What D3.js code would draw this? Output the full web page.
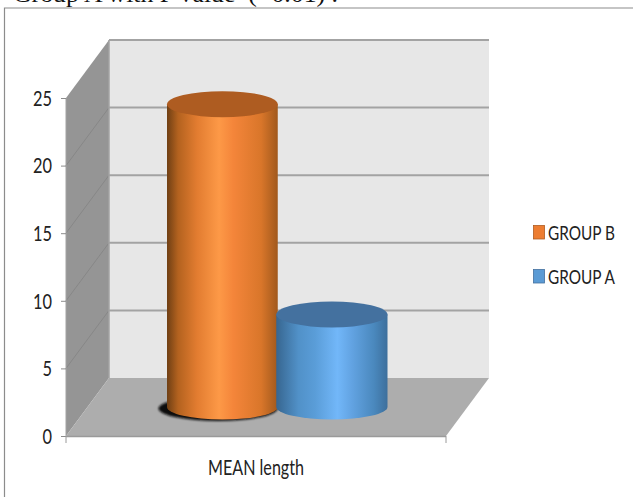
<!DOCTYPE html>
<html>
<head>
<meta charset="utf-8">
<style>
html,body{margin:0;padding:0;background:#fff;overflow:hidden}
svg{display:block}
text{font-family:Lato,"Open Sans",sans-serif;fill:#222}
</style>
<script src="https://cdn.jsdelivr.net/npm/d3@7"></script>
</head>
<body>
<svg id="chart" width="633" height="497"></svg>
<script>
const heading = "Group A with P value  (<0.01) .";
const category = "MEAN length";
const seriesNames = ["GROUP B", "GROUP A"];
const seriesValues = [22.4, 6.85];
const swatchColors = ["#ed7d31", "#5b9bd5"];
const lidColors = ["#ae5c21", "#44719f"];
const yTicks = [0, 5, 10, 15, 20, 25];

const svg = d3.select("#chart");
const W = { x0: 66, x1: 446, dx: 43, dy: 58 };     // plot front edge and depth shear
const y = d3.scaleLinear().domain([0, 25]).range([436, 98]);
const x = d3.scaleBand().domain(seriesNames).range([167, 387.5]).paddingInner(0);
const poly = pts => d3.line()(pts) + "Z";

const defs = svg.append("defs");
defs.append("filter").attr("id", "soft").attr("x", "-20%").attr("y", "-50%").attr("width", "140%").attr("height", "200%")
  .append("feGaussianBlur").attr("stdDeviation", 1);

const shades = [
  [[0, "#6f3f14"], [.1, "#b3621f"], [.27, "#e27c30"], [.47, "#fd9947"], [.6, "#f4853a"], [.85, "#d9762a"], [1, "#a1591d"]],
  [[0, "#376690"], [.2, "#5191c8"], [.35, "#5a9dd8"], [.55, "#72b7f9"], [.68, "#62a3e2"], [.88, "#4a88bd"], [1, "#3d6f9c"]]
];
shades.forEach((stops, i) => {
  const g = defs.append("linearGradient").attr("id", "tube" + i).attr("x1", 0).attr("x2", 1).attr("y1", 0).attr("y2", 0);
  stops.forEach(s => g.append("stop").attr("offset", s[0]).attr("stop-color", s[1]));
});

// Frame of the chart object; its right and bottom sides run off the page
svg.append("path").attr("d", "M4.5,497V8H633").attr("fill", "none").attr("stroke", "#8c8c8c").attr("stroke-width", 1.2);

// Clipped heading line above the frame
svg.append("text").text(heading).attr("x", 13).attr("y", 2)
  .attr("xml:space", "preserve")
  .style("font-family", '"Liberation Serif",serif').style("font-size", "23px").style("fill", "#111")
  .attr("textLength", 325).attr("lengthAdjust", "spacingAndGlyphs");

// Walls and floor
const backY = v => y(v) - W.dy;
svg.append("path").attr("fill", "#959595")
  .attr("d", poly([[W.x0, y(0)], [W.x0, y(25)], [W.x0 + W.dx, backY(25)], [W.x0 + W.dx, backY(0)]]));
svg.append("path").attr("fill", "#e7e7e7")
  .attr("d", poly([[W.x0 + W.dx, backY(25)], [W.x1 + W.dx, backY(25)], [W.x1 + W.dx, backY(0)], [W.x0 + W.dx, backY(0)]]));
svg.append("path").attr("fill", "#adadad")
  .attr("d", poly([[W.x0, y(0)], [W.x0 + W.dx, backY(0)], [W.x1 + W.dx, backY(0)], [W.x1, y(0)]]));

// Grid lines: along the side wall, then across the back wall
svg.selectAll(".side").data(yTicks.slice(1, -1)).join("line").attr("class", "side")
  .attr("x1", W.x0).attr("y1", y).attr("x2", W.x0 + W.dx).attr("y2", backY)
  .attr("stroke", "#878787").attr("stroke-width", 1);
svg.selectAll(".back").data(yTicks.slice(1)).join("line").attr("class", "back")
  .attr("x1", W.x0 + W.dx).attr("y1", backY).attr("x2", W.x1 + W.dx).attr("y2", backY)
  .attr("stroke", "#a3a3a3").attr("stroke-width", 2);
svg.append("line").attr("x1", W.x0 + W.dx).attr("x2", W.x0 + W.dx).attr("y1", backY(25)).attr("y2", backY(0))
  .attr("stroke", "#a3a3a3").attr("stroke-width", 1.5);
svg.append("line").attr("x1", W.x0).attr("x2", W.x1).attr("y1", y(0) + .5).attr("y2", y(0) + .5)
  .attr("stroke", "#9a9a9a").attr("stroke-width", 1.5);
svg.append("line").attr("x1", W.x0).attr("x2", W.x0).attr("y1", y(25)).attr("y2", y(0))
  .attr("stroke", "#a3a3a3").attr("stroke-width", 1);

// Value axis, drawn with d3.axisLeft and then narrowed to a condensed look
const yAxis = svg.append("g").attr("transform", `translate(${W.x0},0)`)
  .call(d3.axisLeft(y).tickValues(yTicks).tickSize(5).tickPadding(9).tickFormat(d3.format("d")));
yAxis.select(".domain").remove();
yAxis.selectAll("line").attr("stroke", "#8c8c8c");
yAxis.selectAll("text").style("font-size", "21px").attr("textLength", d => d < 10 ? 9.5 : 19)
  .attr("lengthAdjust", "spacingAndGlyphs").attr("dy", "0.35em");

// Category axis ticks and label
svg.selectAll(".xt").data([W.x0, W.x1]).join("line").attr("class", "xt")
  .attr("x1", d => d).attr("x2", d => d).attr("y1", y(0)).attr("y2", y(0) + 7).attr("stroke", "#9a9a9a");
svg.append("text").text(category).attr("x", 256).attr("y", 475).attr("text-anchor", "middle")
  .style("font-size", "21px").attr("textLength", 96).attr("lengthAdjust", "spacingAndGlyphs");

// Cylinders stand at mid depth on the floor
const baseY = v => y(v) - W.dy / 2;
const ry = 12.5;
svg.append("ellipse").attr("cx", x(seriesNames[0]) + 51).attr("cy", baseY(0) + 1.5).attr("rx", 59.5).attr("ry", ry)
  .attr("fill", "#111").attr("filter", "url(#soft)");

seriesNames.forEach((name, i) => {
  const L = i === 0 ? x(name) : x(name) - 1, bw = x.bandwidth() + (i === 0 ? 0.5 : 1);
  const top = baseY(seriesValues[i]), base = baseY(0), rx = bw / 2;
  const g = svg.append("g");
  g.append("path").attr("fill", `url(#tube${i})`)
    .attr("d", `M${L},${top}V${base}A${rx},${ry} 0 0 0 ${L + bw},${base}V${top}Z`);
  g.append("ellipse").attr("cx", L + rx).attr("cy", top).attr("rx", rx).attr("ry", ry + .5).attr("fill", lidColors[i]);
});

// Legend; labels are squeezed horizontally to the condensed width
const legendY = d3.scalePoint().domain(seriesNames).range([232, 276]);
const legend = svg.selectAll(".key").data(seriesNames).join("g").attr("class", "key")
  .attr("transform", d => `translate(533,${legendY(d)})`);
legend.append("rect").attr("x", .5).attr("y", -6.5).attr("width", 11).attr("height", 13.5)
  .attr("fill", (d, i) => swatchColors[i]).attr("stroke", (d, i) => lidColors[i]).attr("stroke-width", .8);
legend.append("text").text(d => d).style("font-size", "20px")
  .attr("transform", function () {
    return `translate(15,7.5) scale(${67 / this.getComputedTextLength()},1)`;
  });
</script>
</body>
</html>
